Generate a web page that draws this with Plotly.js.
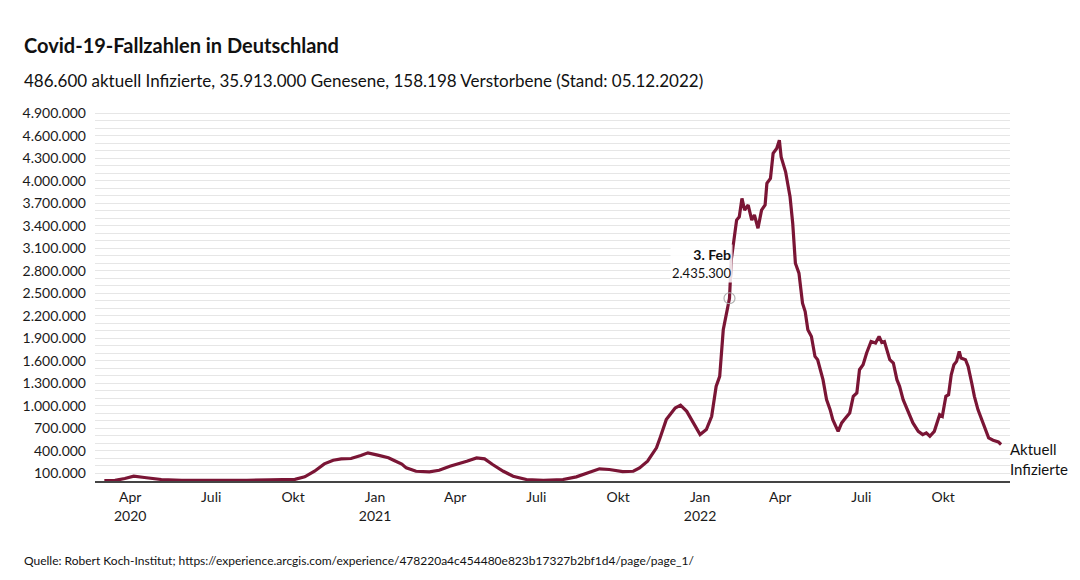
<!DOCTYPE html>
<html>
<head>
<meta charset="utf-8">
<script src="https://cdn.plot.ly/plotly-3.0.1.min.js"></script>
<style>
  html, body { margin: 0; padding: 0; background: #fff; }
  #chart { width: 1080px; height: 580px; }
</style>
</head>
<body>
<div id="chart"></div>
<script>
// ---- Data ----
const dates = [
  "2020-03-03","2020-03-15","2020-03-26","2020-04-05","2020-04-17","2020-05-06","2020-05-29",
  "2020-06-20","2020-07-15","2020-08-10","2020-09-05","2020-10-03","2020-10-14","2020-10-25",
  "2020-11-05","2020-11-15","2020-11-24","2020-12-05","2020-12-16","2020-12-24",
  "2021-01-04","2021-01-16","2021-01-23","2021-01-31","2021-02-05","2021-02-16","2021-03-03",
  "2021-03-14","2021-03-26","2021-04-06","2021-04-14","2021-04-25","2021-05-04","2021-05-13",
  "2021-05-25","2021-06-05","2021-06-20","2021-07-09","2021-07-31","2021-08-15","2021-08-30",
  "2021-09-10","2021-09-21","2021-10-06","2021-10-18","2021-10-25","2021-11-03","2021-11-13",
  "2021-11-17","2021-11-24","2021-12-04","2021-12-10","2021-12-17","2021-12-24",
  "2022-01-01","2022-01-08","2022-01-14","2022-01-19","2022-01-23","2022-01-27","2022-01-31",
  "2022-02-03","2022-02-05","2022-02-09","2022-02-11","2022-02-14","2022-02-17","2022-02-20",
  "2022-02-24","2022-02-28","2022-03-03","2022-03-07","2022-03-11","2022-03-15","2022-03-17",
  "2022-03-21","2022-03-24","2022-03-28","2022-03-31","2022-04-02","2022-04-07","2022-04-12",
  "2022-04-15","2022-04-18","2022-04-22","2022-04-26","2022-04-29","2022-05-02","2022-05-06",
  "2022-05-10","2022-05-13","2022-05-19","2022-05-23","2022-05-27","2022-05-30","2022-06-05",
  "2022-06-09","2022-06-12","2022-06-18","2022-06-22","2022-06-26","2022-06-29","2022-07-03",
  "2022-07-07","2022-07-12","2022-07-17","2022-07-21","2022-07-24","2022-07-27","2022-08-02",
  "2022-08-06","2022-08-10","2022-08-13","2022-08-17","2022-08-23","2022-08-28","2022-09-03",
  "2022-09-08","2022-09-12","2022-09-16","2022-09-21","2022-09-23","2022-09-27","2022-09-30",
  "2022-10-04","2022-10-07","2022-10-10","2022-10-13","2022-10-16","2022-10-19","2022-10-21",
  "2022-10-26","2022-10-29","2022-11-02","2022-11-05","2022-11-09","2022-11-13","2022-11-17",
  "2022-11-21","2022-11-26","2022-11-29","2022-12-02","2022-12-05"
];
const activeCases = [
  5000, 8000, 33000, 64000, 47000, 20000, 8000,
  6000, 6000, 10000, 14000, 22000, 55000, 130000,
  228000, 277000, 295000, 300000, 340000, 375000,
  345000, 310000, 270000, 225000, 175000, 130000, 122000,
  143000, 197000, 233000, 263000, 308000, 295000, 220000,
  130000, 64000, 20000, 8000, 20000, 55000, 122000,
  162000, 153000, 126000, 130000, 175000, 263000, 441000,
  574000, 818000, 973000, 1010000, 928000, 774000,
  618000, 685000, 862000, 1260000, 1394000, 2015000, 2237000,
  2435300, 2946000, 3344000, 3477000, 3521000, 3766000, 3610000,
  3677000, 3477000, 3544000, 3367000, 3610000, 3677000, 3965000,
  4032000, 4365000, 4431000, 4540000, 4319000, 4120000, 3787000,
  3434000, 2902000, 2769000, 2370000, 2258000, 2015000, 1926000,
  1660000, 1616000, 1350000, 1084000, 951000, 818000, 662000,
  774000, 818000, 907000, 1128000, 1173000, 1483000, 1549000,
  1705000, 1859000, 1838000, 1926000, 1846000, 1859000, 1616000,
  1572000, 1350000, 1261000, 1084000, 907000, 774000, 662000,
  618000, 641000, 596000, 662000, 729000, 884000, 862000,
  1128000, 1150000, 1416000, 1549000, 1594000, 1727000, 1638000,
  1616000, 1527000, 1306000, 1128000, 951000, 818000, 685000,
  574000, 543000, 529000, 520000, 486600
];

const xTickVals = ["2020-04-01","2020-07-01","2020-10-01","2021-01-01","2021-04-01","2021-07-01",
                   "2021-10-01","2022-01-01","2022-04-01","2022-07-01","2022-10-01"];
const xTickText = ["Apr<br>2020","Juli","Okt","Jan<br>2021","Apr","Juli",
                   "Okt","Jan<br>2022","Apr","Juli","Okt"];

const highlightDate = "2022-02-03";
const highlightValue = 2435300;
const highlightLabel = "3. Feb";
const endLabel = "Aktuell<br>Infizierte";

const titleText = "Covid-19-Fallzahlen in Deutschland";
const subtitleText = "486.600 aktuell Infizierte, 35.913.000 Genesene, 158.198 Verstorbene (Stand: 05.12.2022)";
const sourceText = "Quelle: Robert Koch-Institut; https://experience.arcgis.com/experience/478220a4c454480e823b17327b2bf1d4/page/page_1/";

// ---- Chart ----
const FONT = "Lato, 'Noto Sans', sans-serif";
const lineColor = "#7a1535";
const fmt = v => v.toString().replace(/\B(?=(\d{3})+(?!\d))/g, ".");

const traces = [
  {
    x: dates, y: activeCases, type: "scatter", mode: "lines",
    line: { color: lineColor, width: 3.2 },
    hoverinfo: "skip"
  },
  {
    x: [highlightDate], y: [highlightValue], type: "scatter", mode: "markers",
    marker: { symbol: "circle-open", size: 11, color: "#b0b0b0", line: { width: 1.2 } },
    hoverinfo: "skip"
  }
];

const plotL = 95, plotR = 1010, plotT = 111, plotB = 481.5;
const pw = plotR - plotL, ph = plotB - plotT;
const px = x => (x - plotL) / pw;
const py = y => (plotB - y) / ph;

const layout = {
  width: 1080, height: 580,
  margin: { l: plotL, r: 1080 - plotR, t: plotT, b: 580 - plotB, pad: 0 },
  paper_bgcolor: "#ffffff", plot_bgcolor: "#ffffff",
  showlegend: false,
  separators: ",.",
  font: { family: FONT, color: "#1a1a1a", size: 14 },
  xaxis: {
    type: "date",
    range: ["2020-02-21 12:00", "2022-12-15"],
    tickvals: xTickVals, ticktext: xTickText,
    showgrid: false, zeroline: false,
    showline: true, linecolor: "#444", linewidth: 1.5,
    ticks: "", ticklabelstandoff: 3,
    tickfont: { family: FONT, size: 14, color: "#1a1a1a" },
    fixedrange: true
  },
  yaxis: {
    range: [0, 4930000],
    tick0: 100000, dtick: 300000, tickformat: ",d",
    showgrid: true, gridcolor: "#e6e6e6", gridwidth: 1,
    minor: { tick0: 0, dtick: 100000, showgrid: true, gridcolor: "#e6e6e6", gridwidth: 1 },
    zeroline: false, showline: false, ticks: "",
    ticklabelstandoff: 8,
    tickfont: { family: FONT, size: 14, color: "#1a1a1a" },
    fixedrange: true
  },
  annotations: [
    {
      xref: "paper", yref: "paper", x: px(22), y: py(45), xanchor: "left", yanchor: "middle",
      text: "<b>" + titleText + "</b>", showarrow: false,
      font: { family: FONT, size: 20, color: "#111" }
    },
    {
      xref: "paper", yref: "paper", x: px(22), y: py(80), xanchor: "left", yanchor: "middle",
      text: subtitleText, showarrow: false,
      font: { family: FONT, size: 17, color: "#111" }
    },
    {
      xref: "paper", yref: "paper", x: px(22), y: py(561), xanchor: "left", yanchor: "middle",
      text: sourceText, showarrow: false,
      font: { family: FONT, size: 12, color: "#111" }
    },
    {
      x: highlightDate, y: highlightValue, xref: "x", yref: "y",
      xanchor: "right", yanchor: "bottom", align: "right",
      xshift: 4, yshift: 15, showarrow: false,
      bgcolor: "rgba(255,255,255,0.85)", borderpad: 1,
      text: "<b>" + highlightLabel + "</b><br><span style='font-size:13px'>" + fmt(highlightValue) + "</span>",
      font: { family: FONT, size: 14, color: "#111" }
    },
    {
      x: dates[dates.length - 1], y: activeCases[activeCases.length - 1], xref: "x", yref: "y",
      xanchor: "left", yanchor: "top", align: "left",
      xshift: 7, yshift: 6, showarrow: false,
      text: endLabel,
      font: { family: FONT, size: 15, color: "#111" }
    }
  ]
};

Plotly.newPlot("chart", traces, layout, { staticPlot: true, displayModeBar: false });
</script>
</body>
</html>
